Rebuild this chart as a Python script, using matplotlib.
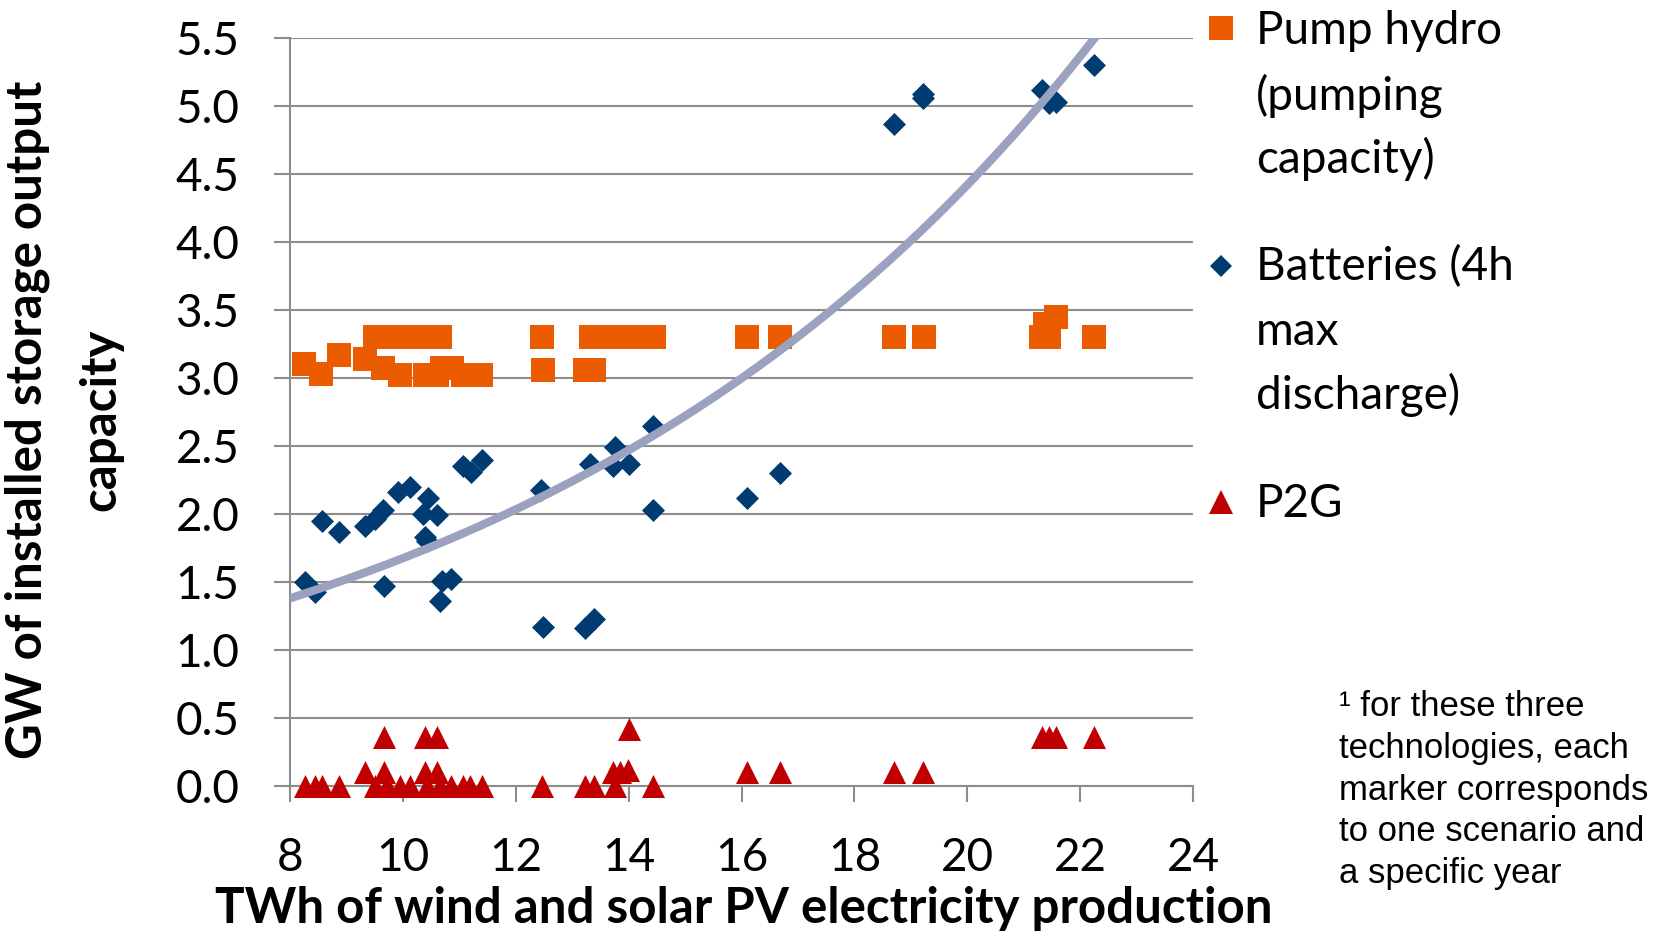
import numpy as np
import matplotlib
matplotlib.use("Agg")
import matplotlib.pyplot as plt
from matplotlib.lines import Line2D

plt.rcParams['font.family'] = ['Lato', 'DejaVu Sans']

# Pump hydro (pumping capacity), GW
pump_x = [8.25, 8.55, 8.87, 9.33, 9.5, 9.7, 9.95, 10.2, 10.45, 10.66,
          9.65, 9.95, 10.4, 10.6, 10.7, 10.87, 11.07, 11.39,
          12.47, 12.48, 13.23, 13.39, 13.34, 13.6, 13.8, 14.05, 14.45,
          16.1, 16.69, 18.71, 19.23, 21.3, 21.45, 21.38, 21.58, 22.25]
pump_y = [3.10, 3.03, 3.17, 3.14, 3.30, 3.30, 3.30, 3.30, 3.30, 3.30,
          3.07, 3.02, 3.02, 3.02, 3.07, 3.07, 3.02, 3.02,
          3.30, 3.06, 3.06, 3.06, 3.30, 3.30, 3.30, 3.30, 3.30,
          3.30, 3.30, 3.30, 3.30, 3.30, 3.30, 3.40, 3.45, 3.30]

# Batteries (4h max discharge), GW
batt_x = [8.27, 8.44, 8.56, 8.86, 9.33, 9.51, 9.65, 9.67, 9.92, 10.13,
          10.45, 10.36, 10.6, 10.39, 10.42, 10.7, 10.86, 10.66, 11.06, 11.2,
          11.4, 12.45, 12.48, 13.23, 13.38, 13.32, 13.75, 13.73, 14.0, 14.44,
          14.44, 16.1, 16.69, 18.71, 19.22, 19.22, 21.32, 21.45, 21.58, 22.25]
batt_y = [1.50, 1.43, 1.95, 1.87, 1.91, 1.96, 2.03, 1.47, 2.16, 2.20,
          2.12, 2.00, 1.99, 1.83, 1.80, 1.51, 1.52, 1.36, 2.35, 2.31,
          2.40, 2.18, 1.17, 1.16, 1.23, 2.37, 2.49, 2.35, 2.37, 2.65,
          2.03, 2.12, 2.30, 4.87, 5.09, 5.06, 5.12, 5.02, 5.03, 5.30]

# P2G, GW
p2g_x = [8.27, 8.44, 8.56, 8.87, 9.51, 9.71, 9.95, 10.13, 10.42, 10.66,
         10.86, 11.06, 11.19, 11.40, 12.47, 13.23, 13.38, 13.76, 14.44,
         9.33, 9.67, 10.39, 10.6, 13.73, 13.85, 13.99, 16.1, 16.69, 18.71, 19.22,
         9.67, 10.39, 10.6, 21.32, 21.45, 21.58, 22.25, 14.0]
p2g_y = [0.0] * 19 + [0.10, 0.10, 0.10, 0.10, 0.10, 0.10, 0.12, 0.10, 0.10, 0.10, 0.10] \
        + [0.36, 0.36, 0.36, 0.36, 0.36, 0.36, 0.36, 0.42]

# exponential trendline of the battery series, y = a * exp(b * x)
trend_a = 0.635
trend_b = 0.097

orange = '#EB5C00'
navy = '#003B71'
red = '#C00000'
grey = '#8C8C8C'

W, H = 1655, 933
fig = plt.figure(figsize=(W / 100, H / 100), dpi=100)
ax = fig.add_axes([290 / W, 1 - 786 / H, 903 / W, 748 / H])

ax.scatter(pump_x, pump_y, marker='s', s=275, color=orange, linewidths=0, zorder=3)
ax.scatter(batt_x, batt_y, marker='D', s=137, color=navy, linewidths=0, zorder=3)
ax.scatter(p2g_x, p2g_y, marker='^', s=275, color=red, linewidths=0, zorder=3,
           clip_on=False)

xt = np.linspace(8, 24, 300)
ax.plot(xt, trend_a * np.exp(trend_b * xt), color='#9AA2C0', lw=6,
        solid_capstyle='butt', zorder=4)

ax.set_xlim(8, 24)
ax.set_ylim(0, 5.5)
ax.set_xticks(range(8, 25, 2))
yt = np.arange(0, 5.51, 0.5)
ax.set_yticks(yt)
ax.set_yticklabels([f'{v:.1f}' for v in yt])

ax.grid(axis='y', color=grey, lw=1.5)
ax.set_axisbelow(True)
for side in ['top', 'right']:
    ax.spines[side].set_visible(False)
for side in ['left', 'bottom']:
    ax.spines[side].set_color(grey)
    ax.spines[side].set_linewidth(1.5)
ax.tick_params(length=11.5, width=1.5, color=grey, labelsize=33, pad=25)


def px_text(x, y, s, **kw):
    # place text by pixel position (from the top-left corner), baseline anchored
    fig.text(x / W, 1 - y / H, s, va='baseline', **kw)


px_text(744, 923, 'TWh of wind and solar PV electricity production',
        ha='center', fontsize=35.5, fontweight='bold')

# rotated y label, one text per line, baselines at x = 42 and 115
for bx, line in [(42, 'GW of installed storage output'), (115, 'capacity')]:
    fig.text(bx / W, 1 - 420 / H, line, rotation=90, rotation_mode='anchor',
             ha='center', va='baseline', fontsize=35.5, fontweight='bold')

# legend beside the plot
legend_items = [
    ('s', 16.6, orange, 28, ['Pump hydro', '(pumping', 'capacity)'], [44, 110, 173]),
    ('D', 11.7, navy, 266, ['Batteries (4h', 'max', 'discharge)'], [280, 345, 409]),
    ('^', 16.6, red, 502, ['P2G'], [517]),
]
for mk, ms, col, my, lines, baselines in legend_items:
    fig.add_artist(Line2D([1221 / W], [1 - my / H], transform=fig.transFigure,
                          marker=mk, markersize=ms, color=col,
                          markeredgewidth=0, linestyle='none'))
    for line, by in zip(lines, baselines):
        px_text(1256, by, line, ha='left', fontsize=33)

note = ['\u00b9 for these three', 'technologies, each', 'marker corresponds',
        'to one scenario and', 'a specific year']
for i, line in enumerate(note):
    px_text(1339, 716 + 41.8 * i, line, ha='left', fontsize=25,
            family='Liberation Sans')

fig.savefig('out.png', dpi=100)
